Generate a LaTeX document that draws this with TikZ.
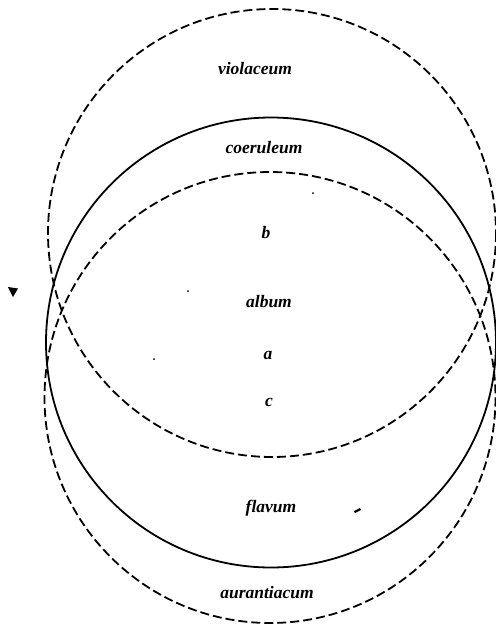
\documentclass[tikz,border=0pt]{standalone}
\usepackage{fontspec}
\setmainfont{Liberation Serif}
\begin{document}
\begin{tikzpicture}[x=1pt,y=-1pt,
  ring/.style={line width=1.8pt},
  dashring/.style={ring, dash pattern=on 9pt off 4pt},
  lab/.style={font=\fontsize{17.5}{20}\selectfont\bfseries\itshape, inner sep=0pt},
  speck/.style={fill=black}]
\useasboundingbox (0,0) rectangle (496,625);
% circles
\draw[dashring] (272,233) circle[radius=224];
\draw[ring] (271,342.5) circle[radius=225];
\draw[dashring] (270,397.5) circle[radius=225.5];
% labels
\node[lab] (violaceum) at (255,69) {violaceum};
\node[lab] (coeruleum) at (264,148) {coeruleum};
\node[lab] (b) at (266,233) {b};
\node[lab] (album) at (269,302) {album};
\node[lab] (a) at (268,355) {a};
\node[lab] (c) at (269,402) {c};
\node[lab] (flavum) at (271,508) {flavum};
\node[lab] (aurantiacum) at (267,593) {aurantiacum};
% specks
\fill[speck] (8,287) -- (18,288.5) -- (13,297) -- cycle;
\fill[speck] (188,291) circle[radius=1];
\fill[speck] (313,193) circle[radius=1];
\fill[speck] (154,359) circle[radius=1];
\fill[speck] (354,511) -- (360,508) -- (361,510) -- (355,513) -- cycle;
\end{tikzpicture}
\end{document}
